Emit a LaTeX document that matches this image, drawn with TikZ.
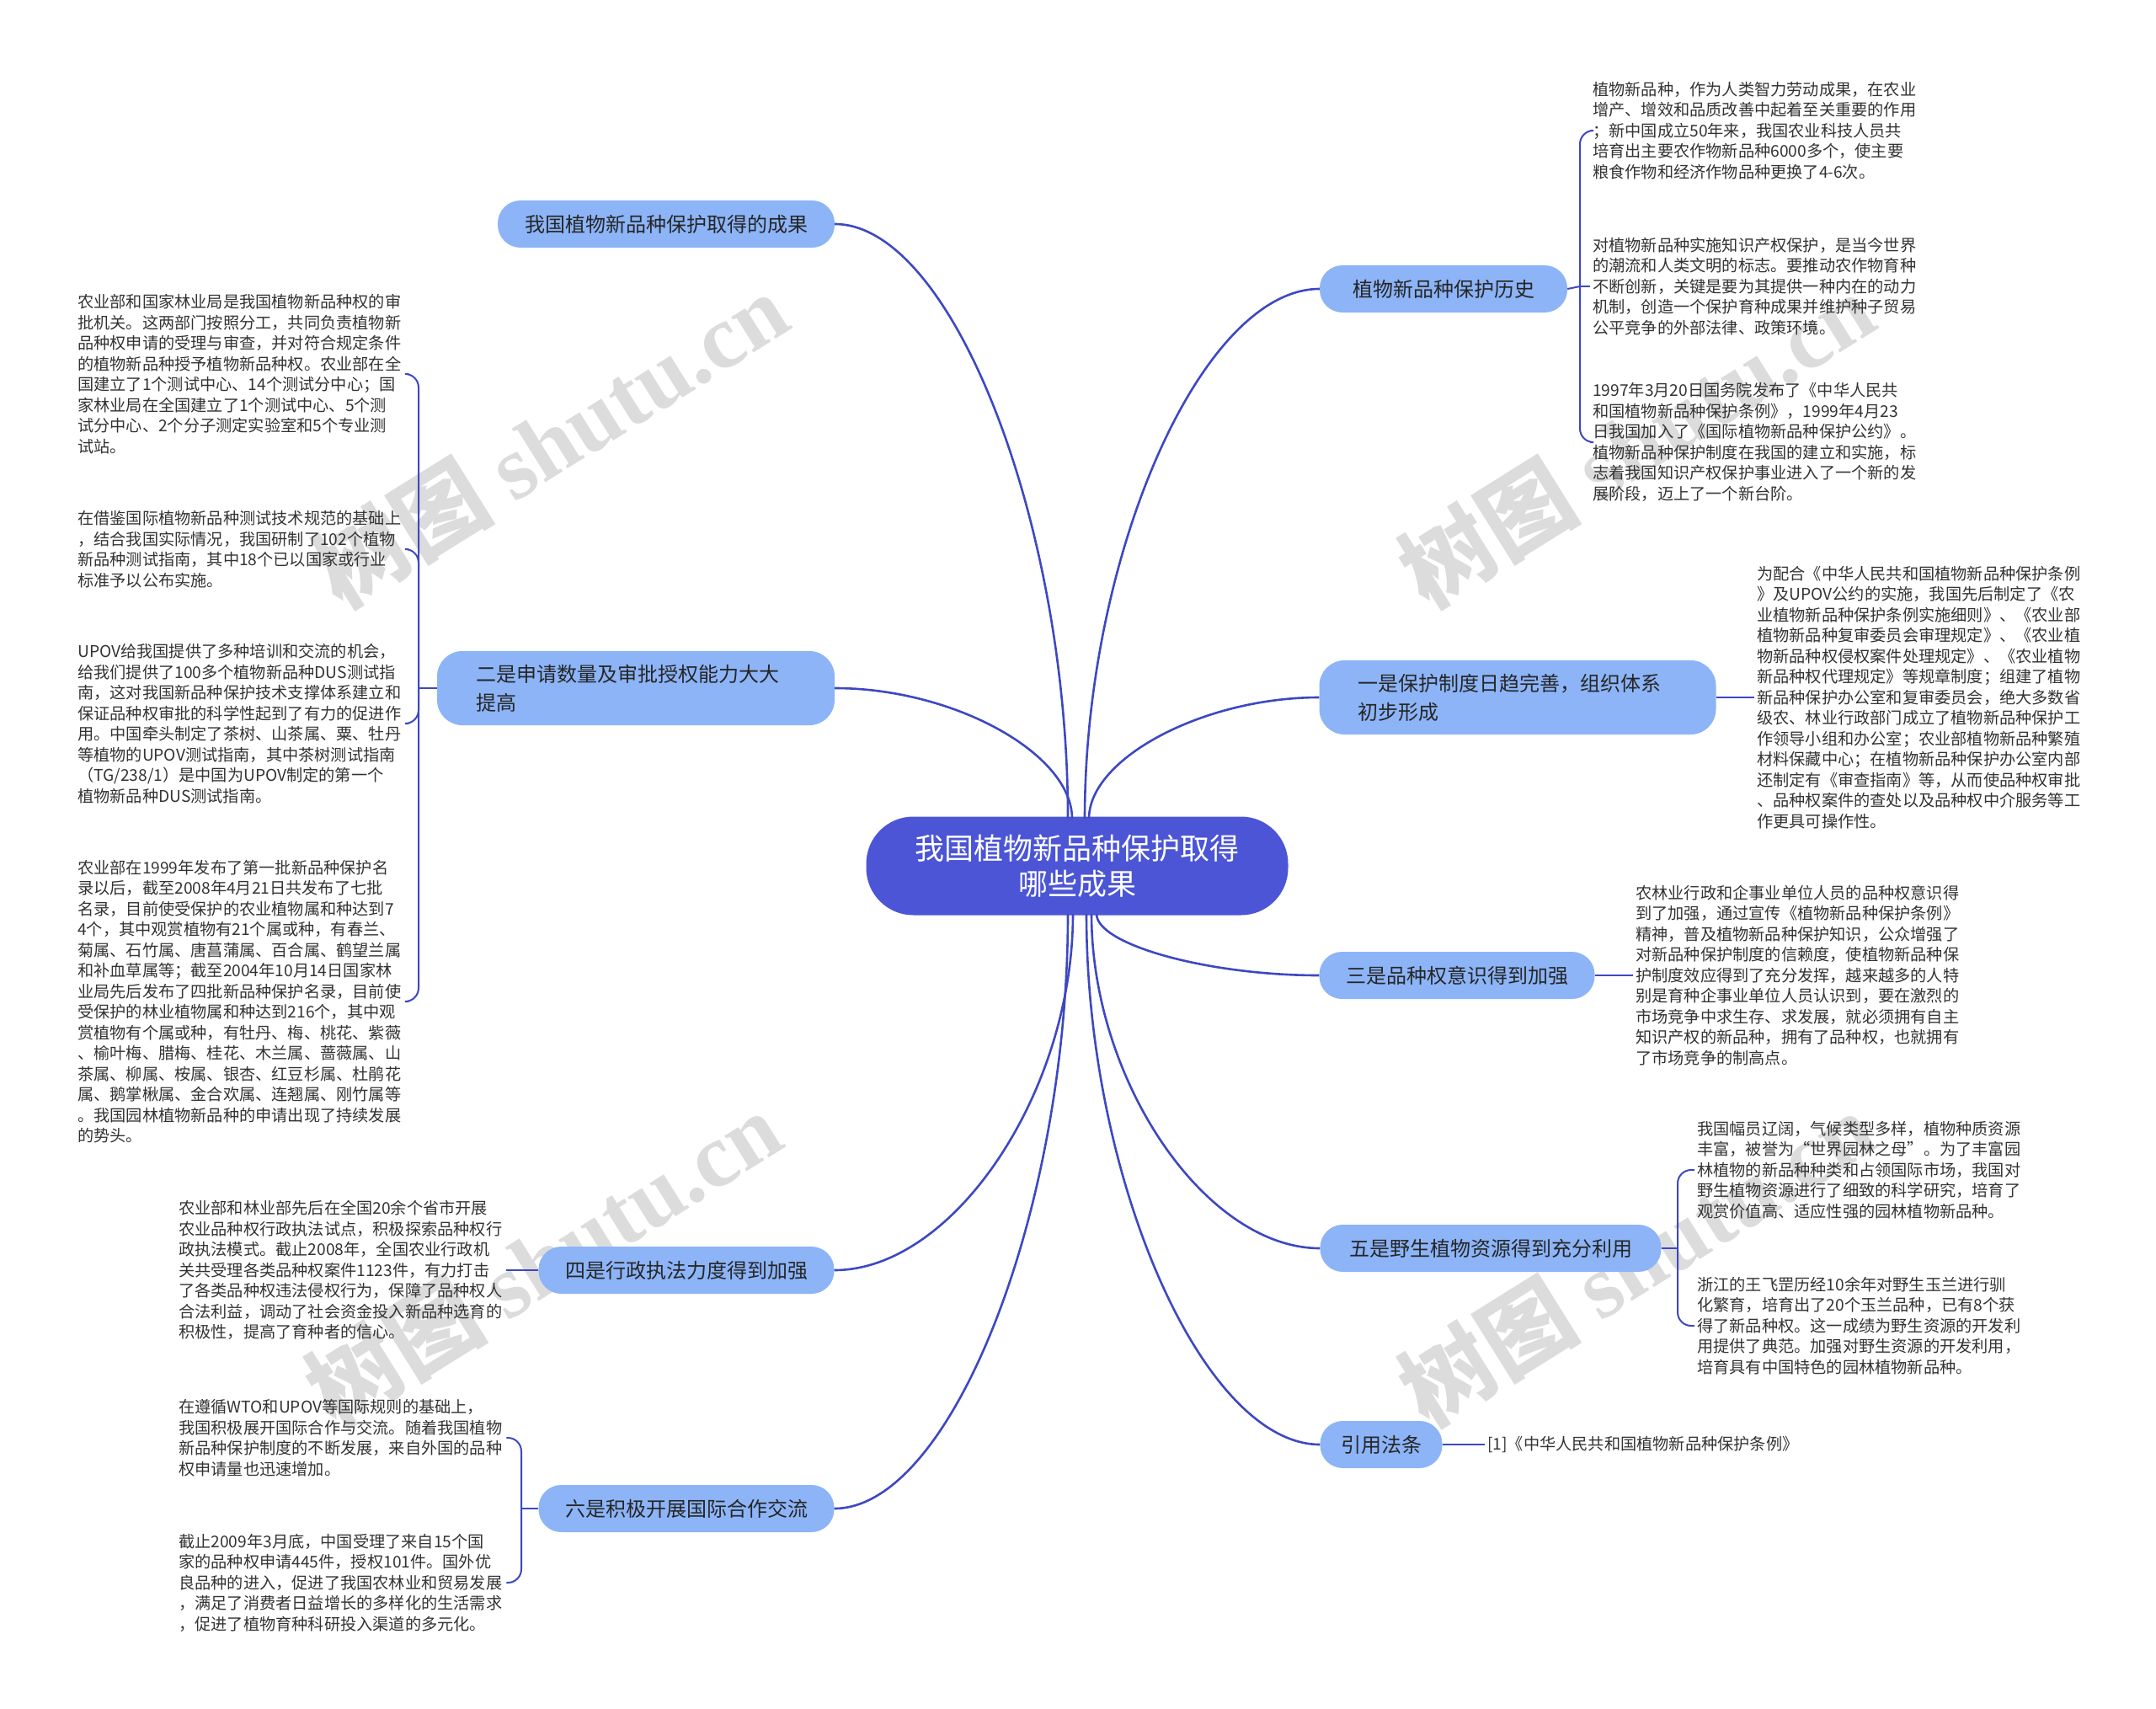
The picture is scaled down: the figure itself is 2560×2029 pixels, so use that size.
\documentclass[tikz,border=0pt]{standalone}
\usepackage{fontspec}
\setmainfont{Noto Sans CJK SC}
\newfontfamily\wmlatin{Liberation Serif}
\usetikzlibrary{calc}
\definecolor{linec}{HTML}{3D48C2}
\definecolor{centerc}{HTML}{4B55D6}
\definecolor{branchc}{HTML}{8CB4F7}
\definecolor{textc}{HTML}{262626}
\definecolor{leaftext}{HTML}{333333}
\definecolor{wmc}{HTML}{DCDCDC}
\begin{document}
\begin{tikzpicture}[x=1pt,y=-1pt,
  centernode/.style={fill=centerc, text=white, rounded corners=56, minimum width=501, minimum height=117, align=center, font=\fontsize{35}{42}\selectfont, inner sep=0},
  branch/.style={fill=branchc, text=textc, rounded corners=27, minimum height=56, inner sep=0, align=center, font=\fontsize{24}{34}\selectfont},
  branchtwo/.style={fill=branchc, text=textc, rounded corners=30, minimum height=88, inner sep=0, align=left, text width=380, font=\fontsize{24}{34}\selectfont},
  leaf/.style={text=leaftext, font=\fontsize{19.2}{24.5}\selectfont, align=left, inner sep=3},
  mainline/.style={draw=linec, line width=2.6},
  leafline/.style={draw=linec, line width=2, rounded corners=16},
  wm/.style={text=wmc, rotate=32, font=\fontsize{108}{110}\selectfont\bfseries}
]
\useasboundingbox (0,0) rectangle (2560,2029);
\fill[white] (0,0) rectangle (2560,2029);

% watermarks
\node[wm] (w1) at (653,522) {树图 {\wmlatin shutu.cn}};
\node[wm] (w2) at (1943,522) {树图 {\wmlatin shutu.cn}};
\node[wm] (w3) at (645,1494) {树图 {\wmlatin shutu.cn}};
\node[wm] (w4) at (1943,1494) {树图 {\wmlatin shutu.cn}};

% center
\node[centernode] (C) at (1279,1028) {我国植物新品种保护取得\\哪些成果};

% branches left
\node[branch, minimum width=400] (L1) at (791,266) {我国植物新品种保护取得的成果};
\node[branchtwo, minimum width=472] (L2) at (755,817) {二是申请数量及审批授权能力大大\\提高};
\node[branch, minimum width=351] (L3) at (815,1508) {四是行政执法力度得到加强};
\node[branch, minimum width=351] (L4) at (815,1791) {六是积极开展国际合作交流};

% branches right
\node[branch, minimum width=294] (R1) at (1714,343) {植物新品种保护历史};
\node[branchtwo, minimum width=471] (R2) at (1802,828) {一是保护制度日趋完善，组织体系\\初步形成};
\node[branch, minimum width=327] (R3) at (1730,1158) {三是品种权意识得到加强};
\node[branch, minimum width=405] (R4) at (1770,1482) {五是野生植物资源得到充分利用};
\node[branch, minimum width=145] (R5) at (1640,1715) {引用法条};

% start points on center node
\coordinate (sL1) at (1268,972);
\coordinate (sL2) at (1273,972);
\coordinate (sR1) at (1288,972);
\coordinate (sR2) at (1293,972);
\coordinate (sL3) at (1274,1085);
\coordinate (sL4) at (1268,1085);
\coordinate (sR3) at (1302,1085);
\coordinate (sR4) at (1296,1085);
\coordinate (sR5) at (1290,1085);

\draw[mainline] (sL1) .. controls ($(sL1)!0.5!(sL1 |- L1.east)$) and ($(sL1 |- L1.east)!0.5!(L1.east)$) .. (L1.east);
\draw[mainline] (sL2) .. controls ($(sL2)!0.5!(sL2 |- L2.east)$) and ($(sL2 |- L2.east)!0.5!(L2.east)$) .. (L2.east);
\draw[mainline] (sR1) .. controls ($(sR1)!0.5!(sR1 |- R1.west)$) and ($(sR1 |- R1.west)!0.5!(R1.west)$) .. (R1.west);
\draw[mainline] (sR2) .. controls ($(sR2)!0.5!(sR2 |- R2.west)$) and ($(sR2 |- R2.west)!0.5!(R2.west)$) .. (R2.west);
\draw[mainline] (sL3) .. controls ($(sL3)!0.5!(sL3 |- L3.east)$) and ($(sL3 |- L3.east)!0.5!(L3.east)$) .. (L3.east);
\draw[mainline] (sL4) .. controls ($(sL4)!0.5!(sL4 |- L4.east)$) and ($(sL4 |- L4.east)!0.5!(L4.east)$) .. (L4.east);
\draw[mainline] (sR3) .. controls ($(sR3)!0.5!(sR3 |- R3.west)$) and ($(sR3 |- R3.west)!0.5!(R3.west)$) .. (R3.west);
\draw[mainline] (sR4) .. controls ($(sR4)!0.5!(sR4 |- R4.west)$) and ($(sR4 |- R4.west)!0.5!(R4.west)$) .. (R4.west);
\draw[mainline] (sR5) .. controls ($(sR5)!0.5!(sR5 |- R5.west)$) and ($(sR5 |- R5.west)!0.5!(R5.west)$) .. (R5.west);

% right leaves
\node[leaf, anchor=west] (r1a) at (1888,155) {植物新品种，作为人类智力劳动成果，在农业\\增产、增效和品质改善中起着至关重要的作用\\；新中国成立50年来，我国农业科技人员共\\培育出主要农作物新品种6000多个，使主要\\粮食作物和经济作物品种更换了4-6次。};
\node[leaf, anchor=west] (r1b) at (1888,340) {对植物新品种实施知识产权保护，是当今世界\\的潮流和人类文明的标志。要推动农作物育种\\不断创新，关键是要为其提供一种内在的动力\\机制，创造一个保护育种成果并维护种子贸易\\公平竞争的外部法律、政策环境。};
\node[leaf, anchor=west] (r1c) at (1888,525) {1997年3月20日国务院发布了《中华人民共\\和国植物新品种保护条例》，1999年4月23\\日我国加入了《国际植物新品种保护公约》。\\植物新品种保护制度在我国的建立和实施，标\\志着我国知识产权保护事业进入了一个新的发\\展阶段，迈上了一个新台阶。};
\node[leaf, anchor=west] (r2) at (2083,828) {为配合《中华人民共和国植物新品种保护条例\\》及UPOV公约的实施，我国先后制定了《农\\业植物新品种保护条例实施细则》、《农业部\\植物新品种复审委员会审理规定》、《农业植\\物新品种权侵权案件处理规定》、《农业植物\\新品种权代理规定》等规章制度；组建了植物\\新品种保护办公室和复审委员会，绝大多数省\\级农、林业行政部门成立了植物新品种保护工\\作领导小组和办公室；农业部植物新品种繁殖\\材料保藏中心；在植物新品种保护办公室内部\\还制定有《审查指南》等，从而使品种权审批\\、品种权案件的查处以及品种权中介服务等工\\作更具可操作性。};
\node[leaf, anchor=west] (r3) at (1939,1158) {农林业行政和企事业单位人员的品种权意识得\\到了加强，通过宣传《植物新品种保护条例》\\精神，普及植物新品种保护知识，公众增强了\\对新品种保护制度的信赖度，使植物新品种保\\护制度效应得到了充分发挥，越来越多的人特\\别是育种企事业单位人员认识到，要在激烈的\\市场竞争中求生存、求发展，就必须拥有自主\\知识产权的新品种，拥有了品种权，也就拥有\\了市场竞争的制高点。};
\node[leaf, anchor=west] (r4a) at (2012,1389) {我国幅员辽阔，气候类型多样，植物种质资源\\丰富，被誉为“世界园林之母”。为了丰富园\\林植物的新品种种类和占领国际市场，我国对\\野生植物资源进行了细致的科学研究，培育了\\观赏价值高、适应性强的园林植物新品种。};
\node[leaf, anchor=west] (r4b) at (2012,1574) {浙江的王飞罡历经10余年对野生玉兰进行驯\\化繁育，培育出了20个玉兰品种，已有8个获\\得了新品种权。这一成绩为野生资源的开发利\\用提供了典范。加强对野生资源的开发利用，\\培育具有中国特色的园林植物新品种。};
\node[leaf, anchor=west] (r5) at (1763,1715) {[1]《中华人民共和国植物新品种保护条例》};

% left leaves
\node[leaf, anchor=west, text width=390] (l2a) at (89,444) {农业部和国家林业局是我国植物新品种权的审\\批机关。这两部门按照分工，共同负责植物新\\品种权申请的受理与审查，并对符合规定条件\\的植物新品种授予植物新品种权。农业部在全\\国建立了1个测试中心、14个测试分中心；国\\家林业局在全国建立了1个测试中心、5个测\\试分中心、2个分子测定实验室和5个专业测\\试站。};
\node[leaf, anchor=west, text width=390] (l2b) at (89,652) {在借鉴国际植物新品种测试技术规范的基础上\\，结合我国实际情况，我国研制了102个植物\\新品种测试指南，其中18个已以国家或行业\\标准予以公布实施。};
\node[leaf, anchor=west, text width=390] (l2c) at (89,859) {UPOV给我国提供了多种培训和交流的机会，\\给我们提供了100多个植物新品种DUS测试指\\南，这对我国新品种保护技术支撑体系建立和\\保证品种权审批的科学性起到了有力的促进作\\用。中国牵头制定了茶树、山茶属、粟、牡丹\\等植物的UPOV测试指南，其中茶树测试指南\\（TG/238/1）是中国为UPOV制定的第一个\\植物新品种DUS测试指南。};
\node[leaf, anchor=west, text width=390] (l2d) at (89,1189) {农业部在1999年发布了第一批新品种保护名\\录以后，截至2008年4月21日共发布了七批\\名录，目前使受保护的农业植物属和种达到7\\4个，其中观赏植物有21个属或种，有春兰、\\菊属、石竹属、唐菖蒲属、百合属、鹤望兰属\\和补血草属等；截至2004年10月14日国家林\\业局先后发布了四批新品种保护名录，目前使\\受保护的林业植物属和种达到216个，其中观\\赏植物有个属或种，有牡丹、梅、桃花、紫薇\\、榆叶梅、腊梅、桂花、木兰属、蔷薇属、山\\茶属、柳属、桉属、银杏、红豆杉属、杜鹃花\\属、鹅掌楸属、金合欢属、连翘属、刚竹属等\\。我国园林植物新品种的申请出现了持续发展\\的势头。};
\node[leaf, anchor=west, text width=386] (l3) at (209,1508) {农业部和林业部先后在全国20余个省市开展\\农业品种权行政执法试点，积极探索品种权行\\政执法模式。截止2008年，全国农业行政机\\关共受理各类品种权案件1123件，有力打击\\了各类品种权违法侵权行为，保障了品种权人\\合法利益，调动了社会资金投入新品种选育的\\积极性，提高了育种者的信心。};
\node[leaf, anchor=west, text width=386] (l4a) at (209,1707) {在遵循WTO和UPOV等国际规则的基础上，\\我国积极展开国际合作与交流。随着我国植物\\新品种保护制度的不断发展，来自外国的品种\\权申请量也迅速增加。};
\node[leaf, anchor=west, text width=386] (l4b) at (209,1879) {截止2009年3月底，中国受理了来自15个国\\家的品种权申请445件，授权101件。国外优\\良品种的进入，促进了我国农林业和贸易发展\\，满足了消费者日益增长的多样化的生活需求\\，促进了植物育种科研投入渠道的多元化。};

% bracket points
\coordinate (bR1) at (1876,340);
\coordinate (bR4) at (1992,1482);
\coordinate (bL2) at (497,817);
\coordinate (bL4) at (619,1791);

\draw[leafline] (R1.east) -- (bR1);
\draw[leafline] (bR1) |- (r1a.west);
\draw[leafline] (bR1) -- (r1b.west);
\draw[leafline] (bR1) |- (r1c.west);
\draw[leafline] (R2.east) -- (r2.west);
\draw[leafline] (R3.east) -- (r3.west);
\draw[leafline] (R4.east) -- (bR4);
\draw[leafline] (bR4) |- (r4a.west);
\draw[leafline] (bR4) |- (r4b.west);
\draw[leafline] (R5.east) -- (r5.west);

\draw[leafline] (L2.west) -- (bL2);
\draw[leafline] (bL2) |- (l2a.east);
\draw[leafline] (bL2) |- (l2b.east);
\draw[leafline] (bL2) |- (l2c.east);
\draw[leafline] (bL2) |- (l2d.east);
\draw[leafline] (L3.west) -- (l3.east);
\draw[leafline] (L4.west) -- (bL4);
\draw[leafline] (bL4) |- (l4a.east);
\draw[leafline] (bL4) |- (l4b.east);
\end{tikzpicture}
\end{document}
